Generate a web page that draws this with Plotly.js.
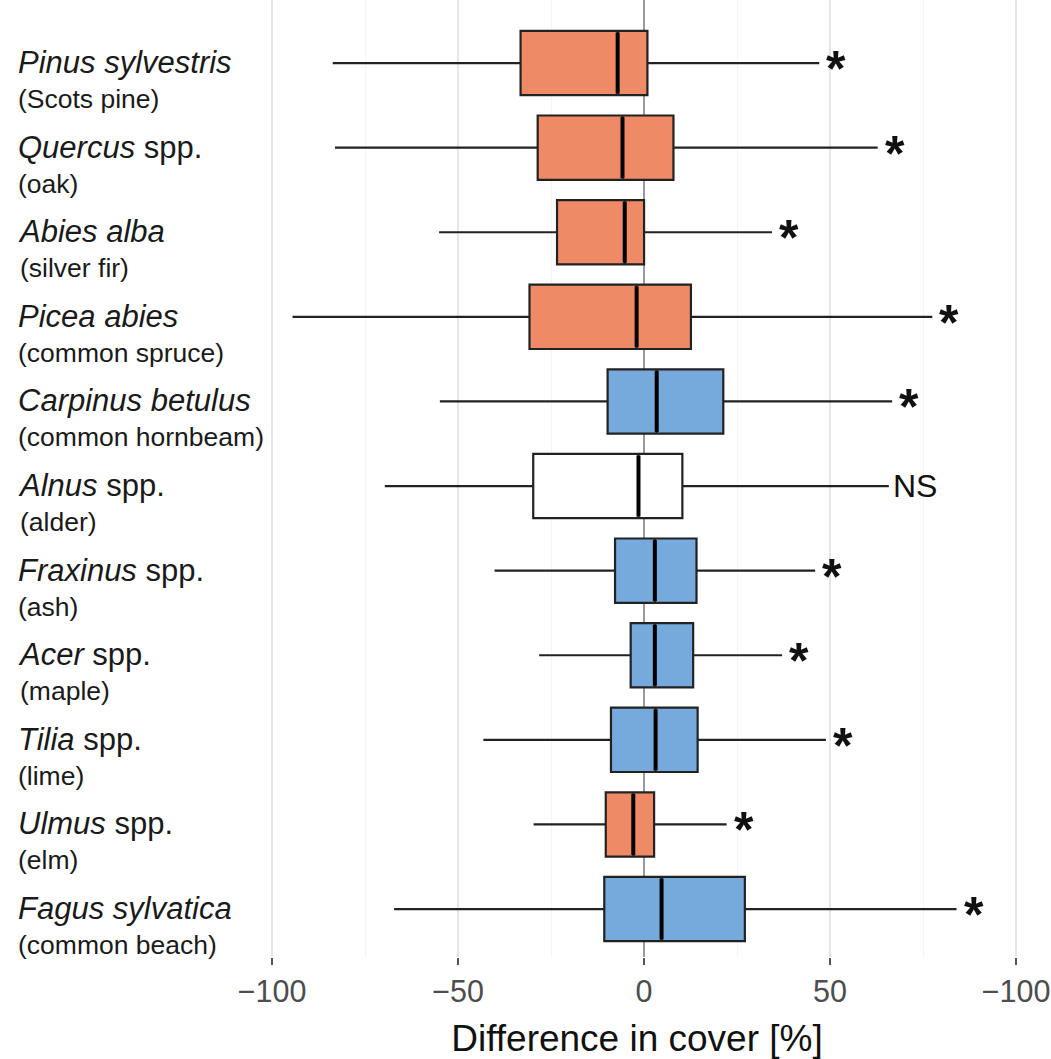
<!DOCTYPE html>
<html>
<head>
<meta charset="utf-8">
<script src="https://cdn.plot.ly/plotly-3.0.1.min.js"></script>
<style>
html,body{margin:0;padding:0;background:#fff;}
#chart{width:1051px;height:1059px;}
</style>
</head>
<body>
<div id="chart"></div>
<script>
// ---- data ----
const speciesItalic = ["Pinus sylvestris","Quercus","Abies alba","Picea abies","Carpinus betulus","Alnus","Fraxinus","Acer","Tilia","Ulmus","Fagus sylvatica"];
const speciesSuffix = [""," spp.","","",""," spp."," spp."," spp."," spp."," spp.",""];
const commonNames = ["(Scots pine)","(oak)","(silver fir)","(common spruce)","(common hornbeam)","(alder)","(ash)","(maple)","(lime)","(elm)","(common beach)"];
const lowerWhisker = [-83.7,-83.1,-55.1,-94.5,-54.9,-69.7,-40.2,-28.2,-43.2,-29.7,-67.2];
const q1Values     = [-33.2,-28.6,-23.4,-30.8,-9.8,-29.8,-7.8,-3.6,-8.9,-10.3,-10.7];
const medianValues = [-7.1,-5.8,-5.2,-2.0,3.4,-1.5,2.9,2.9,3.1,-2.9,4.7];
const q3Values     = [0.9,7.9,0.0,12.6,21.3,10.3,14.1,13.2,14.4,2.7,27.1];
const upperWhisker = [47.1,62.8,34.4,77.5,66.7,65.8,46.0,37.1,48.9,22.2,84.0];
const direction    = ["decrease","decrease","decrease","decrease","increase","ns","increase","increase","increase","decrease","increase"];
const significance = ["*","*","*","*","*","NS","*","*","*","*","*"];
const tickValues   = [-100,-50,0,50,100];
const tickLabels   = ["\u2212100","\u221250","0","50","\u2212100"];
const axisTitle    = "Difference in cover [%]";

// ---- styling ----
const fillByDirection = {decrease:"#EF8A66", increase:"#76A9DC", ns:"#FFFFFF"};
const FONT = "'Liberation Sans', Arial, Helvetica, sans-serif";
const BOXW = 0.76;
const M = {l:223, r:0, t:0, b:102};
const W = 1051, H = 1059;

const traces = [];
speciesItalic.forEach((s,i)=>{
  traces.push({
    type:"box", orientation:"h",
    y:[i], q1:[q1Values[i]], median:[medianValues[i]], q3:[q3Values[i]],
    lowerfence:[lowerWhisker[i]], upperfence:[upperWhisker[i]],
    width:BOXW, whiskerwidth:0, boxpoints:false,
    fillcolor:fillByDirection[direction[i]],
    line:{color:"#222", width:2.2},
    hoverinfo:"skip", showlegend:false
  });
});
// thicker medians
const mx=[], my=[];
medianValues.forEach((m,i)=>{ mx.push(m,m,null); my.push(i-BOXW/2+0.02,i+BOXW/2-0.02,null); });
traces.push({type:"scatter",mode:"lines",x:mx,y:my,line:{color:"#000",width:4},hoverinfo:"skip",showlegend:false});

const annotations = [];
const plotW = W - M.l - M.r;
speciesItalic.forEach((s,i)=>{
  annotations.push({
    xref:"paper", yref:"y", x:(16-M.l)/plotW, y:i, xanchor:"left", yanchor:"top",
    yshift:20, align:"left", showarrow:false,
    text:`<span style="font-size:31px"><i>${s}</i>${speciesSuffix[i]}</span><br><span style="font-size:26.5px">${commonNames[i]}</span>`,
    font:{family:FONT, size:27, color:"#1a1a1a"}
  });
  const star = significance[i]==="*";
  annotations.push({
    xref:"x", yref:"y", x:upperWhisker[i], y:i, xanchor:"left", yanchor:"middle",
    xshift: star?5:2, yshift: star?-6:0, showarrow:false,
    text: star ? "<b>*</b>" : significance[i],
    font:{family:FONT, size: star?50:32, color:"#111"}
  });
});

const layout = {
  width:W, height:H, margin:M,
  paper_bgcolor:"#fff", plot_bgcolor:"#fff",
  showlegend:false,
  xaxis:{
    range:[-113.2,109.4], tickvals:tickValues, ticktext:tickLabels,
    tickfont:{family:FONT, size:30.5, color:"#4d4d4d"},
    ticks:"outside", ticklen:7, tickwidth:2, tickcolor:"#555",
    showgrid:true, gridcolor:"#e6e6e6", gridwidth:2,
    minor:{tickvals:[-75,-25,25,75], showgrid:true, gridcolor:"#f5f5f5", gridwidth:1, ticks:""},
    zeroline:true, zerolinecolor:"#9a9a9a", zerolinewidth:2,
    showline:false, fixedrange:true,
    title:{text:axisTitle, font:{family:FONT, size:37, color:"#111"}, standoff:24}
  },
  yaxis:{
    range:[10.567,-0.745], showticklabels:false, ticks:"", showgrid:false, zeroline:false, showline:false, fixedrange:true
  },
  annotations:annotations
};
Plotly.newPlot("chart", traces, layout, {staticPlot:true, displayModeBar:false});
</script>
</body>
</html>
